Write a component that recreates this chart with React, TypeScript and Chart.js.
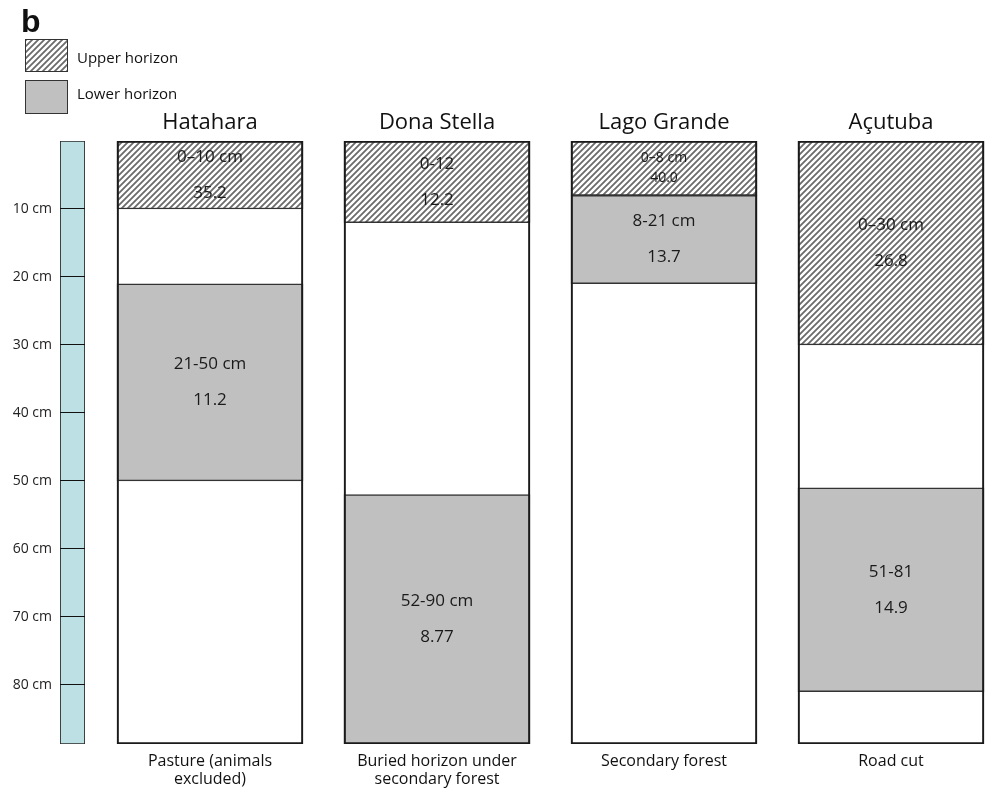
import React, { useEffect, useRef } from 'react';
import { Chart, registerables } from 'chart.js';

Chart.register(...registerables);

// Sampling sites and their land use
const sites = ['Hatahara', 'Dona Stella', 'Lago Grande', 'Açutuba'];
const landUse = [
  ['Pasture (animals', 'excluded)'],
  ['Buried horizon under', 'secondary forest'],
  ['Secondary forest'],
  ['Road cut'],
];

// Depth of the drawn profiles (cm) and the depth scale ticks
const profileDepth = 88.7;
const depthTicks = [10, 20, 30, 40, 50, 60, 70, 80];

// Upper horizon: depth range (cm) and measured value
const upperTop = [0, 0, 0, 0];
const upperBottom = [10, 12, 8, 30];
const upperRangeText = ['0–10 cm', '0-12', '0–8 cm', '0–30 cm'];
const upperValues = [35.2, 12.2, 40.0, 26.8];

// Lower horizon: depth range (cm) and measured value
const lowerTop = [21, 52, 8, 51];
const lowerBottom = [50, 90, 21, 81];
const lowerRangeText = ['21-50 cm', '52-90 cm', '8-21 cm', '51-81'];
const lowerValues = [11.2, 8.77, 13.7, 14.9];

const FONT = '"Open Sans", "Noto Sans", sans-serif';
const W = 989;
const H = 789;
const PLOT_TOP = 141;
const PLOT_BOTTOM = 744;

const fmtValue = (v: number) => (Number.isInteger(v) ? v.toFixed(1) : String(v));

function makeHatchTile(): HTMLCanvasElement {
  const s = 6;
  const c = document.createElement('canvas');
  c.width = s;
  c.height = s;
  const g = c.getContext('2d')!;
  g.fillStyle = '#ffffff';
  g.fillRect(0, 0, s, s);
  g.strokeStyle = '#6b6b6b';
  g.lineWidth = 1.8;
  g.beginPath();
  g.moveTo(-1, s + 1);
  g.lineTo(s + 1, -1);
  g.moveTo(-1, 1);
  g.lineTo(1, -1);
  g.moveTo(s - 1, s + 1);
  g.lineTo(s + 1, s - 1);
  g.stroke();
  return c;
}

// Writes the depth range and the value inside each horizon box
const horizonLabels = {
  id: 'horizonLabels',
  afterDatasetsDraw(chart: any) {
    const { ctx, chartArea } = chart;
    chart.data.datasets.forEach((ds: any, di: number) => {
      if (!ds.rangeText) return;
      const meta = chart.getDatasetMeta(di);
      meta.data.forEach((bar: any, i: number) => {
        const p = bar.getProps(['x', 'y', 'base'], true);
        const top = Math.max(Math.min(p.y, p.base), chartArea.top);
        const bottom = Math.min(Math.max(p.y, p.base), chartArea.bottom);
        const mid = (top + bottom) / 2;
        const compact = bottom - top < 60;
        const size = compact ? 14 : 17;
        const gap = compact ? 20 : 36;
        ctx.save();
        ctx.font = `${size}px ${FONT}`;
        ctx.fillStyle = '#1a1a1a';
        ctx.textAlign = 'center';
        ctx.textBaseline = 'middle';
        ctx.fillText(ds.rangeText[i], p.x, mid - gap / 2);
        ctx.fillText(fmtValue(ds.values[i]), p.x, mid + gap / 2);
        ctx.restore();
      });
    });
  },
};

export default function App() {
  const scaleRef = useRef<HTMLCanvasElement>(null);
  const profileRef = useRef<HTMLCanvasElement>(null);
  const swatchRef = useRef<HTMLDivElement>(null);

  useEffect(() => {
    const tile = makeHatchTile();
    if (swatchRef.current) {
      swatchRef.current.style.backgroundImage = `url(${tile.toDataURL()})`;
    }
    const hatch = profileRef.current!.getContext('2d')!.createPattern(tile, 'repeat')!;

    const common = {
      grouped: false,
      barThickness: 186,
      borderSkipped: false as const,
      clip: { left: 150, right: 150, top: 0, bottom: 0 },
    };

    const profiles = new Chart(profileRef.current!, {
      type: 'bar',
      data: {
        labels: sites,
        datasets: [
          {
            label: 'Upper horizon',
            data: upperTop.map((t, i) => [t, upperBottom[i]]),
            backgroundColor: hatch,
            borderColor: '#333333',
            borderWidth: 1.5,
            order: 2,
            rangeText: upperRangeText,
            values: upperValues,
            ...common,
          } as any,
          {
            label: 'Lower horizon',
            data: lowerTop.map((t, i) => [t, lowerBottom[i]]),
            backgroundColor: '#c0c0c0',
            borderColor: '#333333',
            borderWidth: 1.5,
            order: 2,
            rangeText: lowerRangeText,
            values: lowerValues,
            ...common,
          } as any,
          {
            label: 'Profile',
            data: sites.map(() => [0, profileDepth]),
            backgroundColor: 'rgba(0,0,0,0)',
            borderColor: '#1a1a1a',
            borderWidth: 1.5,
            order: 1,
            ...common,
          } as any,
        ],
      },
      options: {
        animation: false,
        responsive: false,
        events: [],
        layout: { padding: { left: 210, right: W - 891, top: 0, bottom: 0 } },
        plugins: { legend: { display: false }, tooltip: { enabled: false } },
        scales: {
          x: {
            type: 'category',
            position: 'top',
            offset: false,
            grid: { display: false, drawTicks: false },
            border: { display: false },
            ticks: { padding: 5, color: '#111', font: { family: FONT, size: 22 } },
            afterFit: (s: any) => { s.height = PLOT_TOP; },
          },
          x2: {
            type: 'category',
            position: 'bottom',
            labels: landUse as any,
            offset: false,
            grid: { display: false, drawTicks: false },
            border: { display: false },
            ticks: { padding: 8, color: '#111', font: { family: FONT, size: 16, lineHeight: 1.125 } },
            afterFit: (s: any) => { s.height = H - PLOT_BOTTOM; },
          },
          y: {
            display: false,
            reverse: true,
            min: 0,
            max: profileDepth,
          },
        },
      },
      plugins: [horizonLabels],
    });

    const scale = new Chart(scaleRef.current!, {
      type: 'bar',
      data: {
        labels: ['Depth'],
        datasets: [
          {
            label: 'Depth',
            data: [[0, profileDepth]],
            backgroundColor: '#bce0e3',
            borderColor: '#2a2a2a',
            borderWidth: 1.2,
            borderSkipped: false,
            barPercentage: 1,
            categoryPercentage: 1,
          } as any,
        ],
      },
      options: {
        animation: false,
        responsive: false,
        events: [],
        layout: { padding: { left: 0, right: 15, top: PLOT_TOP, bottom: H - PLOT_BOTTOM } },
        plugins: { legend: { display: false }, tooltip: { enabled: false } },
        scales: {
          x: { display: false },
          y: {
            reverse: true,
            min: 0,
            max: profileDepth,
            afterBuildTicks: (s: any) => { s.ticks = depthTicks.map((v) => ({ value: v })); },
            afterFit: (s: any) => { s.width = 60; },
            grid: { color: '#111', lineWidth: 1, drawTicks: false, tickLength: 0, z: 1 },
            border: { display: false },
            ticks: {
              padding: 8,
              color: '#222',
              font: { family: FONT, size: 14 },
              callback: (v: any) => `${v} cm`,
            },
          },
        },
      },
    });

    return () => {
      profiles.destroy();
      scale.destroy();
    };
  }, []);

  const legendLabel: React.CSSProperties = {
    position: 'absolute',
    left: 77,
    fontFamily: FONT,
    fontSize: 15,
    color: '#111',
    lineHeight: '18px',
    whiteSpace: 'nowrap',
  };

  return (
    <div style={{ position: 'fixed', left: 0, top: 0, width: W, height: H, background: '#fff', overflow: 'hidden' }}>
      <canvas ref={profileRef} width={W} height={H} style={{ position: 'absolute', left: 0, top: 0 }} />
      <canvas ref={scaleRef} width={100} height={H} style={{ position: 'absolute', left: 0, top: 0 }} />
      <div style={{ position: 'absolute', left: 21, top: 5, fontFamily: '"Liberation Sans", Arial, sans-serif', fontWeight: 'bold', fontSize: 32, lineHeight: '32px', color: '#111' }}>b</div>
      <div ref={swatchRef} style={{ position: 'absolute', left: 25, top: 39, width: 41, height: 31, border: '1px solid #333' }} />
      <div style={{ ...legendLabel, top: 48 }}>Upper horizon</div>
      <div style={{ position: 'absolute', left: 25, top: 80, width: 41, height: 32, border: '1px solid #333', background: '#c0c0c0' }} />
      <div style={{ ...legendLabel, top: 84 }}>Lower horizon</div>
    </div>
  );
}
